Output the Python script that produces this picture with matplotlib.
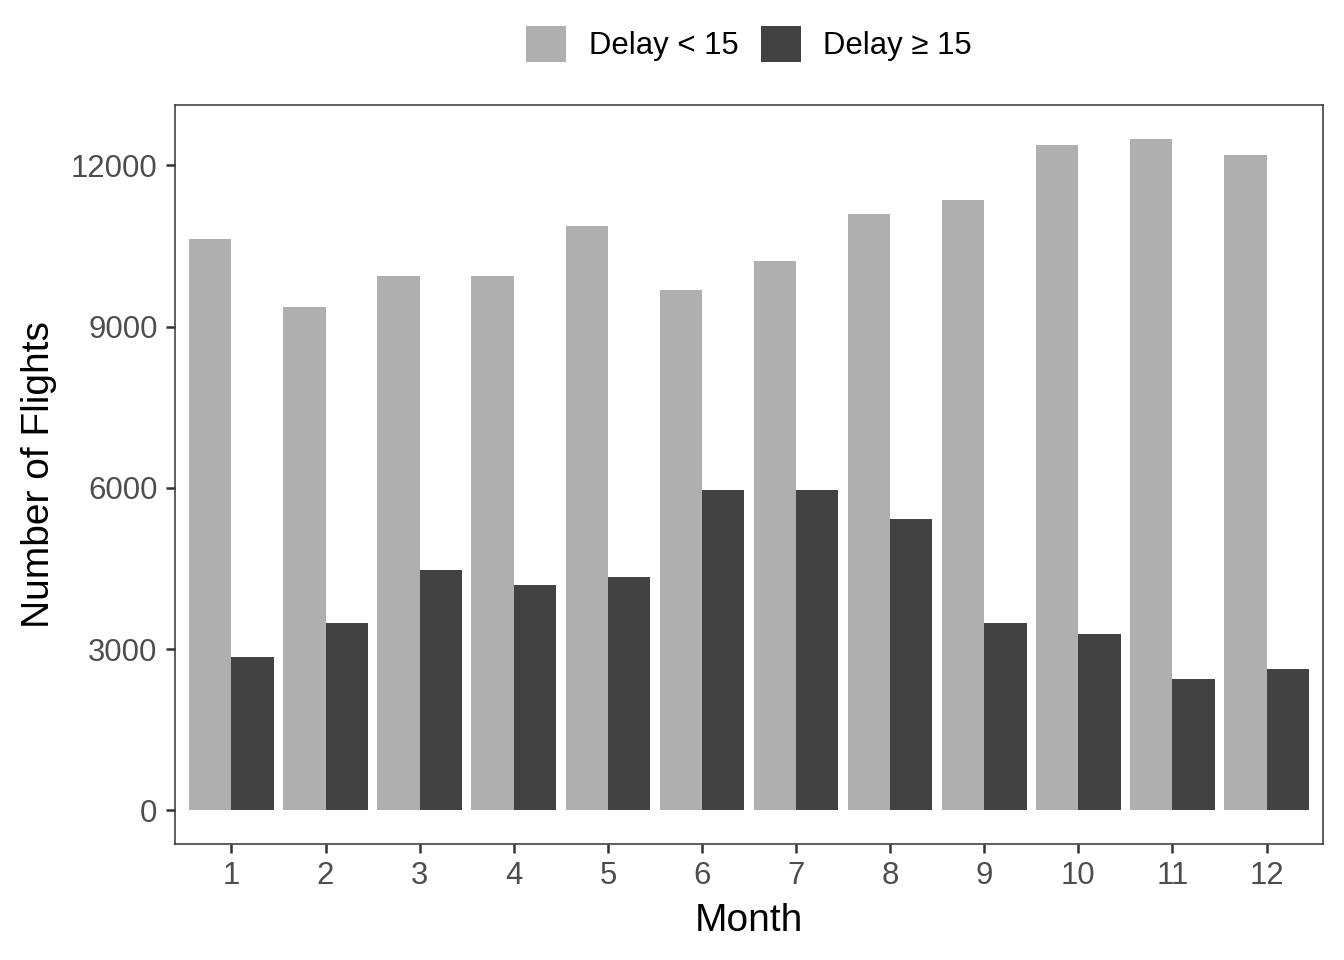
import numpy as np
import matplotlib.pyplot as plt
from matplotlib.patches import Patch

plt.rcParams['font.family'] = ['Liberation Sans', 'DejaVu Sans']

# monthly flight counts
months = np.arange(1, 13)
month_labels = [str(m) for m in months]
on_time = [10640, 9360, 9950, 9950, 10880, 9690, 10230, 11090, 11350, 12390, 12500, 12190]
delayed = [2850, 3480, 4470, 4190, 4340, 5970, 5970, 5420, 3480, 3280, 2440, 2640]
series_names = ['Delay < 15', 'Delay \u2265 15']
colors = ['#AFAFAF', '#424242']

fig = plt.figure(figsize=(6.72, 4.8), dpi=200)
ax = fig.add_axes([175 / 1344, 1 - 844 / 960, (1323 - 175) / 1344, (844 - 105) / 960])

w = 0.45
ax.bar(months - w / 2, on_time, width=w, color=colors[0], linewidth=0)
ax.bar(months + w / 2, delayed, width=w, color=colors[1], linewidth=0)

ymax = max(max(on_time), max(delayed))
ax.set_xlim(0.4, 12.6)
ax.set_ylim(-0.05 * ymax, 1.05 * ymax)
ax.set_xticks(months)
ax.set_xticklabels(month_labels)
ax.set_yticks([0, 3000, 6000, 9000, 12000])

for s in ax.spines.values():
    s.set_color('#333333')
    s.set_linewidth(0.55)
ax.tick_params(length=3.3, width=0.9, color='#333333', labelcolor='#4D4D4D',
               labelsize=11.2, pad=3.0)
ax.set_xlabel('Month', fontsize=14, labelpad=4)
ax.set_ylabel('Number of Flights', fontsize=14, labelpad=5)

handles = [Patch(facecolor=c, edgecolor='none') for c in colors]
fig.legend(handles, series_names, loc='center', bbox_to_anchor=(749 / 1344, 1 - 44 / 960),
           ncol=2, frameon=False, fontsize=11.2, handlelength=1.29, handleheight=1.45,
           handletextpad=0.72, columnspacing=0.72)

fig.savefig('out.png', dpi=200)
